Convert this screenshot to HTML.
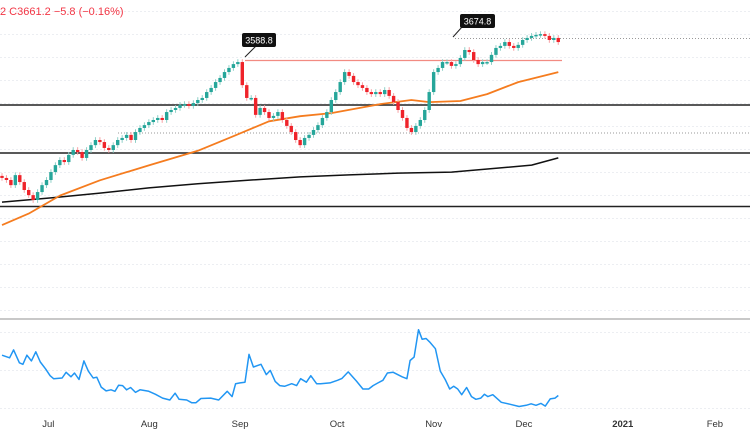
<!DOCTYPE html>
<html><head><meta charset="utf-8">
<style>
html,body{margin:0;padding:0;background:#fff;}
svg{display:block;font-family:"Liberation Sans",sans-serif;}
</style></head>
<body>
<svg id="chart" width="750" height="430" viewBox="0 0 750 430" xmlns="http://www.w3.org/2000/svg">
  <g id="grid"></g>
  <g id="levels">
    <line x1="0" x2="750" y1="105" y2="105" stroke="#222" stroke-width="1.5"/>
    <line x1="0" x2="750" y1="153" y2="153" stroke="#222" stroke-width="1.5"/>
    <line x1="0" x2="750" y1="206.5" y2="206.5" stroke="#222" stroke-width="1.5"/>
    <line x1="118" x2="750" y1="133" y2="133" stroke="#999" stroke-width="1" stroke-dasharray="1,2"/>
    <line x1="455" x2="750" y1="38.5" y2="38.5" stroke="#999" stroke-width="1" stroke-dasharray="1,2"/>
    <line x1="245" x2="562" y1="60.5" y2="60.5" stroke="#f28b82" stroke-width="1.2"/>
  </g>
  <g id="ma"></g>
  <g id="candles"></g>
  <g id="callouts">
    <line x1="245" y1="57" x2="256" y2="46" stroke="#222" stroke-width="1"/>
    <rect x="242" y="33" width="34" height="14" rx="2" fill="#111"/>
    <text x="259" y="43.5" font-size="9" fill="#fff" text-anchor="middle">3588.8</text>
    <line x1="453" y1="37" x2="462" y2="27" stroke="#222" stroke-width="1"/>
    <rect x="460" y="14" width="35" height="14" rx="2" fill="#111"/>
    <text x="477.5" y="24.5" font-size="9" fill="#fff" text-anchor="middle">3674.8</text>
  </g>
  <text x="0" y="15" font-size="11" fill="#f23645">2  C3661.2  −5.8 (−0.16%)</text>
  <line x1="0" x2="750" y1="319" y2="319" stroke="#c8c8c8" stroke-width="2"/>
  <g id="ind"></g>
  <g id="xaxis"></g>
</svg>
<script>
const closes=[3129,3121,3101,3140,3113,3082,3062,3043,3074,3101,
3121,3152,3179,3199,3191,3219,3238,3230,3207,3238,3257,3277,3269,3246,3238,3257,3277,3285,3297,3277,3308,3324,
3335,3347,3355,3363,3355,3386,3394,3402,3414,3417,3410,3421,3433,3441,3464,3480,3503,3519,3542,3558,3573,
3581,3491,3441,3441,3375,3402,3386,3363,3371,3386,3355,3332,3308,3277,3257,3285,3297,3316,3335,3363,3386,
3433,3464,3503,3542,3527,3503,3491,3480,3464,3456,3464,3456,3472,3449,3425,3394,3363,3324,3308,3332,3355,3394,
3464,3542,3558,3581,3581,3566,3573,3597,3628,3620,3589,3573,3581,3581,3609,3636,3644,3659,3644,3636,3648,
3667,3675,3683,3687,3690,3683,3667,3675,3659];
const ma50=[2945,2990,3060,3120,3178,3235,3292,3350,3370,3382,3417,3433,3425,3429,3456,3503,3542];
const ma50Idx=[0,6,13,22,33,44,52,60,67,74,85,92,96,103,109,116,125];
const ma200=[3035,3051,3070,3090,3106,3121,3133,3141,3148,3152,3168,3179,3207];
const ma200Idx=[0,11,22,33,44,56,67,78,89,101,112,119,125];
const indIdx=[0,1.7,2.6,3.9,4.7,5.6,6.6,7.6,8.6,9.8,10.8,11.6,13.5,14.4,15.5,16.3,17.3,18.4,19.4,20.5,21.3,22.3,23.4,24.5,25.4,26.2,27.1,28,28.9,30,31,33,34.5,36.1,37.7,38.9,39.8,41.5,42.6,43.6,44.7,46.9,48.7,50.6,51.7,52.5,53.5,54.6,55.5,56.5,58.2,59.4,60.3,61.4,62.4,63.5,65.1,66.2,67.1,68.4,69.4,70.7,71.6,73.7,75.4,76.4,77.8,79.7,81.1,82.4,83.4,84.5,85.6,86.6,87.9,89.9,91,91.7,92.6,93.6,94.4,95.3,96.1,97.4,98.5,99.6,100.6,101.5,102.4,103.3,104.4,105.5,106.5,107.6,108.4,109.2,110.3,112.2,114.1,116.2,117.8,118.9,120,121.1,122.1,123.2,124.3,125];
const indVals=[13.9,13.2,15.3,11.9,11.5,13.9,12.4,14.8,12.1,10.3,8.5,7.7,7.9,9.4,8.2,9.2,7.5,12.4,9.7,7.9,8.1,5.5,4.5,4.8,4.4,6.0,5.9,4.8,5.4,4.1,4.8,4.4,3.6,2.6,2.1,3.9,2.3,2.1,1.4,1.4,2.5,2.6,2.1,4.4,3.0,6.4,6.6,6.8,14.1,10.8,11.5,8.8,9.9,7.0,5.9,5.7,6.4,5.9,7.7,6.8,8.5,6.4,6.4,6.6,7.3,7.8,9.5,7.0,5.0,5.0,5.9,6.6,7.3,9.2,9.4,8.2,7.7,12.5,13.4,20.6,18.1,18.3,17.4,15.6,9.7,7.5,5.0,5.7,5.0,3.5,5.4,3.0,2.3,2.6,3.6,3.0,3.5,1.5,1.0,0.4,0.7,1.1,0.7,1.2,0.5,2.4,2.6,3.3];
const monthLabels=["Jul","Aug","Sep","Oct","Nov","Dec","2021","Feb"];
const monthIdx=[10.4,33.1,53.5,75.3,97,117.3,139.5,160.2];

const NS="http://www.w3.org/2000/svg";
const step=4.45;
const xs=i=>2+i*step;
const ys=p=>(3823-p)/3.9;
const yi=v=>408-v*3.8;
function mk(tag,attrs,parent){const e=document.createElementNS(NS,tag);for(const k in attrs)e.setAttribute(k,attrs[k]);parent.appendChild(e);return e;}

const grid=document.getElementById('grid');
for(let y=11;y<312;y+=23){const g=mk('line',{x1:0,x2:750,y1:y+.5,y2:y+.5,stroke:'#eceef2','stroke-dasharray':'2,2'},grid);

}
[332,370,408].forEach(y=>{const g=mk('line',{x1:0,x2:750,y1:y+.5,y2:y+.5,stroke:'#eceef2','stroke-dasharray':'2,2'},grid);

});

const maG=document.getElementById('ma');
function line(idx,vals,fy,color,w,name,parent){
  const d=idx.map((i,k)=>(k?'L':'M')+xs(i).toFixed(1)+','+fy(vals[k]).toFixed(1)).join('');
  const p=mk('path',{d:d,fill:'none',stroke:color,'stroke-width':w,'stroke-linejoin':'round'},parent);
  
  
}
line(ma200Idx,ma200,ys,'#111',1.5,'ma-200-line',maG);
line(ma50Idx,ma50,ys,'#f57c1f',1.8,'ma-50-line',maG);

const cg=document.getElementById('candles');
closes.forEach((c,i)=>{
  const o=i?closes[i-1]:c+8;
  const up=c>=o;
  const col=up?'#26a69a':'#ef232a';
  const wick=up?'#8fd0c8':'#f7a1a4';
  const hi=Math.max(o,c)+11, lo=Math.min(o,c)-11;
  const x=xs(i);
  const w=mk('line',{x1:x,x2:x,y1:ys(hi),y2:ys(lo),stroke:wick,'stroke-width':1},cg);
  
  
  const top=ys(Math.max(o,c)),h=Math.max(1.5,ys(Math.min(o,c))-top);
  const r=mk('rect',{x:x-1.7,y:top,width:3.4,height:h,fill:col},cg);
  
  
});

const ig=document.getElementById('ind');
line(indIdx,indVals,yi,'#2196f3',1.5,'indicator-line',ig);

const xa=document.getElementById('xaxis');
monthLabels.forEach((m,k)=>{
  const t=mk('text',{x:xs(monthIdx[k]),y:427,'font-size':9.5,fill:'#333','text-anchor':'middle','font-weight':m==='2021'?'bold':'normal'},xa);
  t.textContent=m;
  
  
});
</script>
</body></html>
